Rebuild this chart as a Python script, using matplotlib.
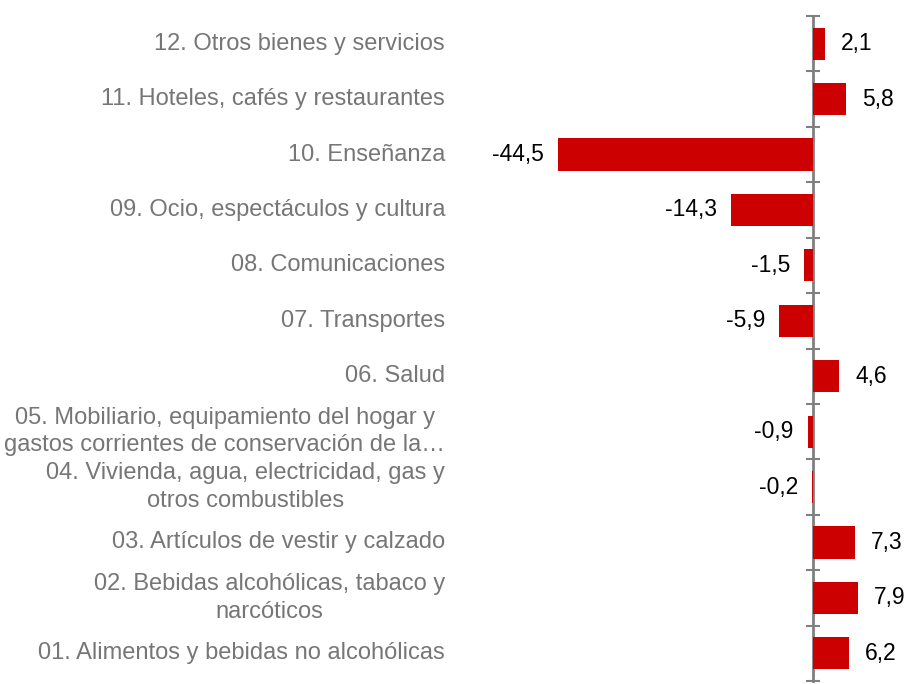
import matplotlib.pyplot as plt
import matplotlib.transforms as mtransforms

# categorias de abajo (01) hacia arriba (12)
categorias = [
    "01. Alimentos y bebidas no alcohólicas",
    "02. Bebidas alcohólicas, tabaco y\nnarcóticos",
    "03. Artículos de vestir y calzado",
    "04. Vivienda, agua, electricidad, gas y\notros combustibles",
    "05. Mobiliario, equipamiento del hogar y\ngastos corrientes de conservación de la…",
    "06. Salud",
    "07. Transportes",
    "08. Comunicaciones",
    "09. Ocio, espectáculos y cultura",
    "10. Enseñanza",
    "11. Hoteles, cafés y restaurantes",
    "12. Otros bienes y servicios",
]
valores = [6.2, 7.9, 7.3, -0.2, -0.9, 4.6, -5.9, -1.5, -14.3, -44.5, 5.8, 2.1]

ROJO = "#CC0000"
GRIS = "#808080"
TXT_GRIS = "#767676"

plt.rcParams["font.family"] = ["Liberation Sans", "DejaVu Sans"]

fig = plt.figure(figsize=(9.05, 6.84), dpi=100)
ax = fig.add_axes([460 / 905, 3 / 684, 445 / 905, 665 / 684])

pos = list(range(len(categorias)))
ax.barh(pos, valores, height=0.58, color=ROJO, zorder=4)

ax.set_xlim(-61.6, 16.06)
ax.set_ylim(-0.5, len(categorias) - 0.5)

# eje vertical en cero con marcas entre categorias
for s in ["top", "right", "bottom"]:
    ax.spines[s].set_visible(False)
ax.spines["left"].set_position(("data", 0))
ax.spines["left"].set_color(GRIS)
ax.spines["left"].set_linewidth(2.0)
ax.spines["left"].set_zorder(3)
ax.set_xticks([])
ax.set_yticks([])
ax.set_yticks([p - 0.5 for p in pos] + [len(pos) - 0.5], minor=True)
ax.tick_params(axis="y", which="minor", direction="inout", length=10,
               width=1.5, color=GRIS, labelleft=False)

# etiquetas de categoria a la izquierda
trans = mtransforms.blended_transform_factory(fig.transFigure, ax.transData)
for p, c in zip(pos, categorias):
    ax.text(445 / 905, p, c, transform=trans, ha="right", va="center",
            multialignment="center", fontsize=17, color=TXT_GRIS,
            linespacing=1.32)

# valores
for p, v in zip(pos, valores):
    txt = f"{v:.1f}".replace(".", ",")
    if v >= 0:
        ax.annotate(txt, (v, p), xytext=(16, 0), textcoords="offset pixels",
                    ha="left", va="center", fontsize=16.5, color="black")
    else:
        ax.annotate(txt, (v, p), xytext=(-14, 0), textcoords="offset pixels",
                    ha="right", va="center", fontsize=16.5, color="black")

fig.savefig("out.png", dpi=100)
